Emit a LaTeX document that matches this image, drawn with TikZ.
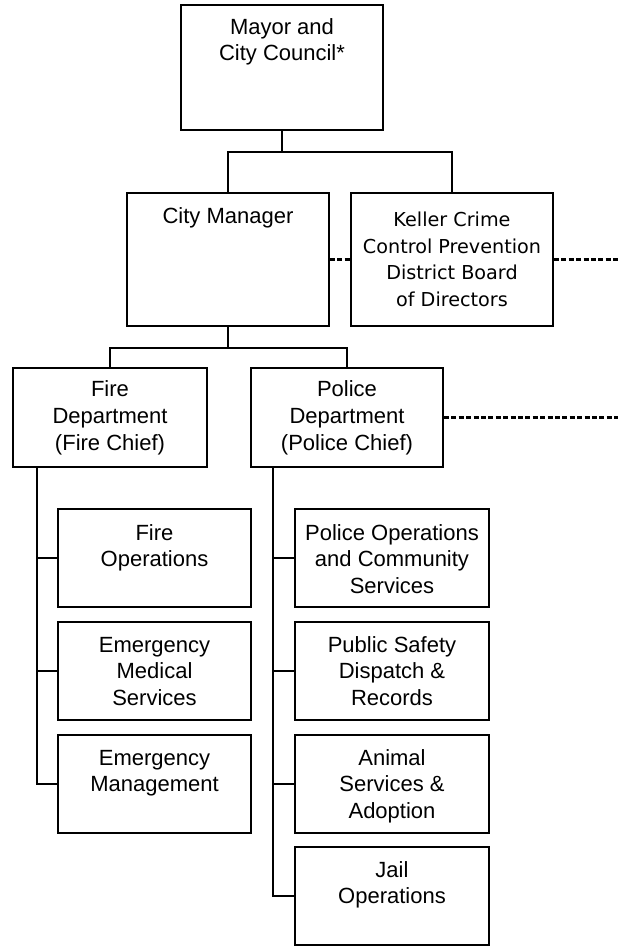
\documentclass[tikz,border=0pt]{standalone}
\usepackage{fontspec}
\setmainfont{Liberation Sans}
\newfontfamily\kfont{DejaVu Sans}
\begin{document}
\begin{tikzpicture}[x=1pt,y=-1pt,
  box/.style={draw, line width=1.8pt, inner sep=0pt, align=center, font=\fontsize{22}{26.8}\selectfont},
  conn/.style={line width=1.3pt},
  dots/.style={line width=3.4pt, dash pattern=on 5pt off 2.4pt},
  txt/.style={align=center, inner sep=0pt, anchor=north, font=\fontsize{22}{26.8}\selectfont},
  ktxt/.style={font=\kfont\fontsize{19.2}{26.5}\selectfont}]
\useasboundingbox[fill=white] (0,0) rectangle (618,946);

% boxes
\node[box, minimum width=202pt, minimum height=125pt] (mayor) at (282,67.5) {};
\node[box, minimum width=202pt, minimum height=133pt] (cm) at (228,259.5) {};
\node[box, ktxt, minimum width=202pt, minimum height=133pt] (keller) at (452,259.5) {Keller Crime\\Control Prevention\\District Board\\of Directors};
\node[box, minimum width=194pt, minimum height=99pt] (fire) at (110,417.5) {Fire\\Department\\(Fire Chief)};
\node[box, minimum width=192pt, minimum height=99pt] (police) at (347,417.5) {Police\\Department\\(Police Chief)};

\node[box, minimum width=193pt, minimum height=98pt] (fo) at (154.5,558) {};
\node[box, minimum width=193pt, minimum height=98pt] (ems) at (154.5,671) {};
\node[box, minimum width=193pt, minimum height=98pt] (emg) at (154.5,784) {};

\node[box, minimum width=194pt, minimum height=98pt] (po) at (392,558) {};
\node[box, minimum width=194pt, minimum height=98pt] (psd) at (392,671) {};
\node[box, minimum width=194pt, minimum height=98pt] (as) at (392,784) {};
\node[box, minimum width=194pt, minimum height=98pt] (jo) at (392,896) {};

% texts
\node[txt] (mayorT) at ([yshift=-11pt]mayor.north) {\strut Mayor and\\City Council*};
\node[txt] (cmT) at ([yshift=-12pt]cm.north) {\strut City Manager};
\node[txt] (foT) at ([yshift=-13pt]fo.north) {\strut Fire\\Operations};
\node[txt] (emsT) at ([yshift=-12pt]ems.north) {\strut Emergency\\Medical\\Services};
\node[txt] (emgT) at ([yshift=-12pt]emg.north) {\strut Emergency\\Management};
\node[txt] (poT) at ([yshift=-13pt]po.north) {\strut Police Operations\\and Community\\Services};
\node[txt] (psdT) at ([yshift=-12pt]psd.north) {\strut Public Safety\\Dispatch \&\\Records};
\node[txt] (asT) at ([yshift=-12pt]as.north) {\strut Animal\\Services \&\\Adoption};
\node[txt] (joT) at ([yshift=-12pt]jo.north) {\strut Jail\\Operations};

% connectors
\coordinate (j1) at (282,152);
\coordinate (j2) at (228,348);
\draw[conn] (mayor.south) -- (j1);
\draw[conn] (cm.north) |- (j1) -| (keller.north);
\draw[conn] (cm.south) -- (j2);
\draw[conn] (fire.north) |- (j2) -| (police.north);

\coordinate (fspine) at (37,467);
\draw[conn] (fspine) |- (emg.west);
\draw[conn] (fspine |- fo.west) -- (fo.west);
\draw[conn] (fspine |- ems.west) -- (ems.west);

\coordinate (pspine) at (273,467);
\draw[conn] (pspine) |- (jo.west);
\draw[conn] (pspine |- po.west) -- (po.west);
\draw[conn] (pspine |- psd.west) -- (psd.west);
\draw[conn] (pspine |- as.west) -- (as.west);

% dotted links
\coordinate (kend) at (618,259.5);
\coordinate (pend) at (618,417.5);
\draw[dots] (cm.east) -- (keller.west);
\draw[dots] (keller.east) -- (kend);
\draw[dots] (police.east) -- (pend);
\end{tikzpicture}
\end{document}
